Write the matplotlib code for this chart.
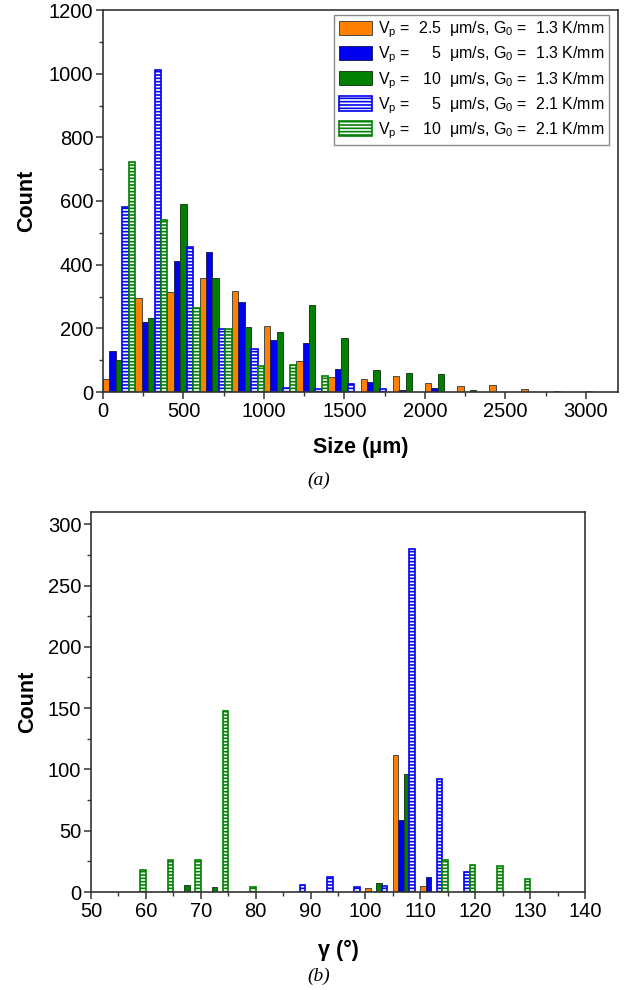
import numpy as np
import matplotlib
matplotlib.use('Agg')
import matplotlib.pyplot as plt
from matplotlib.ticker import MultipleLocator

plt.rcParams['font.family'] = ['Liberation Sans', 'DejaVu Sans']
plt.rcParams['mathtext.default'] = 'regular'
plt.rcParams['hatch.linewidth'] = 1.2

# (a) size histogram, bins of 200 um
size_bins = np.arange(0, 3200, 200)
size_v25_g13 = [40, 295, 315, 358, 316, 207, 98, 46, 40, 50, 29, 19, 22, 9, 2, 2]
size_v5_g13 = [129, 219, 412, 440, 284, 163, 154, 73, 30, 7, 12, 0, 0, 0, 0, 0]
size_v10_g13 = [100, 232, 590, 359, 204, 187, 273, 169, 69, 59, 55, 7, 0, 0, 0, 0]
size_v5_g21 = [581, 1010, 455, 197, 136, 12, 10, 25, 9, 0, 0, 0, 0, 0, 0, 0]
size_v10_g21 = [722, 539, 265, 197, 81, 86, 50, 0, 0, 0, 0, 0, 0, 0, 0, 0]

# (b) gamma histogram, bins of 5 deg
gamma_bins = np.arange(55, 130, 5)
gamma_v25_g13 = [0, 0, 0, 0, 0, 0, 0, 0, 0, 3, 112, 5, 0, 0, 0]
gamma_v5_g13 = [0, 0, 0, 0, 0, 0, 0, 0, 0, 0, 59, 12, 0, 0, 0]
gamma_v10_g13 = [0, 0, 6, 4, 0, 0, 0, 0, 0, 7, 96, 0, 0, 0, 0]
gamma_v5_g21 = [0, 0, 0, 0, 0, 0, 6, 12, 4, 5, 280, 92, 16, 0, 0]
gamma_v10_g21 = [18, 26, 26, 148, 4, 0, 0, 0, 0, 0, 0, 26, 22, 21, 11]

labels = [
    'V$_p$ =  2.5  μm/s, G$_0$ =  1.3 K/mm',
    'V$_p$ =     5  μm/s, G$_0$ =  1.3 K/mm',
    'V$_p$ =   10  μm/s, G$_0$ =  1.3 K/mm',
    'V$_p$ =     5  μm/s, G$_0$ =  2.1 K/mm',
    'V$_p$ =   10  μm/s, G$_0$ =  2.1 K/mm',
]
orange, blue, green = '#FF8000', '#0000F0', '#008000'
styles = [
    dict(color=orange, edgecolor='#4a4a4a', linewidth=0.7),
    dict(color=blue, edgecolor='#202060', linewidth=0.7),
    dict(color=green, edgecolor='#1d401d', linewidth=0.7),
    dict(facecolor='white', edgecolor=blue, hatch='-----', linewidth=1.2),
    dict(facecolor='white', edgecolor=green, hatch='-----', linewidth=1.2),
]


def draw_hist(ax, bins, series, width):
    for i, (vals, st, lab) in enumerate(zip(series, styles, labels)):
        vals = np.asarray(vals, dtype=float)
        keep = vals > 0
        ax.bar(bins[keep] + i * width, vals[keep], width=width, align='edge',
               label=lab, zorder=2, **st)


def style_axes(ax):
    for s in ax.spines.values():
        s.set_color('#333333')
        s.set_linewidth(1.2)
    ax.tick_params(which='major', direction='out', length=5, width=1.1,
                   color='#333333', labelsize=14.5, pad=2)
    ax.tick_params(which='minor', direction='out', length=3, width=1.0,
                   color='#333333')


fig = plt.figure(figsize=(6.4, 9.9), dpi=100)

ax1 = fig.add_axes([103 / 640, 1 - 392 / 990, 515 / 640, 382 / 990])
draw_hist(ax1, size_bins, [size_v25_g13, size_v5_g13, size_v10_g13,
                           size_v5_g21, size_v10_g21], 40)
ax1.set_xlim(0, 3200)
ax1.set_ylim(0, 1200)
ax1.xaxis.set_major_locator(MultipleLocator(500))
ax1.xaxis.set_minor_locator(MultipleLocator(250))
ax1.yaxis.set_major_locator(MultipleLocator(200))
ax1.yaxis.set_minor_locator(MultipleLocator(100))
style_axes(ax1)
ax1.set_xlabel('Size (μm)', fontsize=15.5, fontweight='bold')
ax1.set_ylabel('Count', fontsize=15.5, fontweight='bold')
ax1.xaxis.set_label_coords(0.5, -0.118)
ax1.yaxis.set_label_coords(-0.128, 0.5)
leg = ax1.legend(loc='upper right', bbox_to_anchor=(0.983, 0.987),
                 borderaxespad=0, fontsize=11.5, fancybox=False,
                 edgecolor='#888888', framealpha=1, handlelength=2.1,
                 handleheight=1.0, handletextpad=0.35, labelspacing=0.28,
                 borderpad=0.3)
leg.get_frame().set_linewidth(1.0)

ax2 = fig.add_axes([91 / 640, 1 - 892 / 990, 494 / 640, 380 / 990])
draw_hist(ax2, gamma_bins, [gamma_v25_g13, gamma_v5_g13, gamma_v10_g13,
                            gamma_v5_g21, gamma_v10_g21], 1)
ax2.set_xlim(50, 140)
ax2.set_ylim(0, 310)
ax2.xaxis.set_major_locator(MultipleLocator(10))
ax2.xaxis.set_minor_locator(MultipleLocator(5))
ax2.yaxis.set_major_locator(MultipleLocator(50))
ax2.yaxis.set_minor_locator(MultipleLocator(25))
style_axes(ax2)
ax2.set_xlabel('γ (°)', fontsize=15.5, fontweight='bold')
ax2.set_ylabel('Count', fontsize=15.5, fontweight='bold')
ax2.xaxis.set_label_coords(0.5, -0.125)
ax2.yaxis.set_label_coords(-0.108, 0.5)

fig.text(0.498, 1 - 480 / 990, '(a)', fontsize=14, style='italic',
         family='Liberation Serif', ha='center', va='center')
fig.text(0.498, 1 - 976 / 990, '(b)', fontsize=14, style='italic',
         family='Liberation Serif', ha='center', va='center')

fig.savefig('out.png', dpi=100)
